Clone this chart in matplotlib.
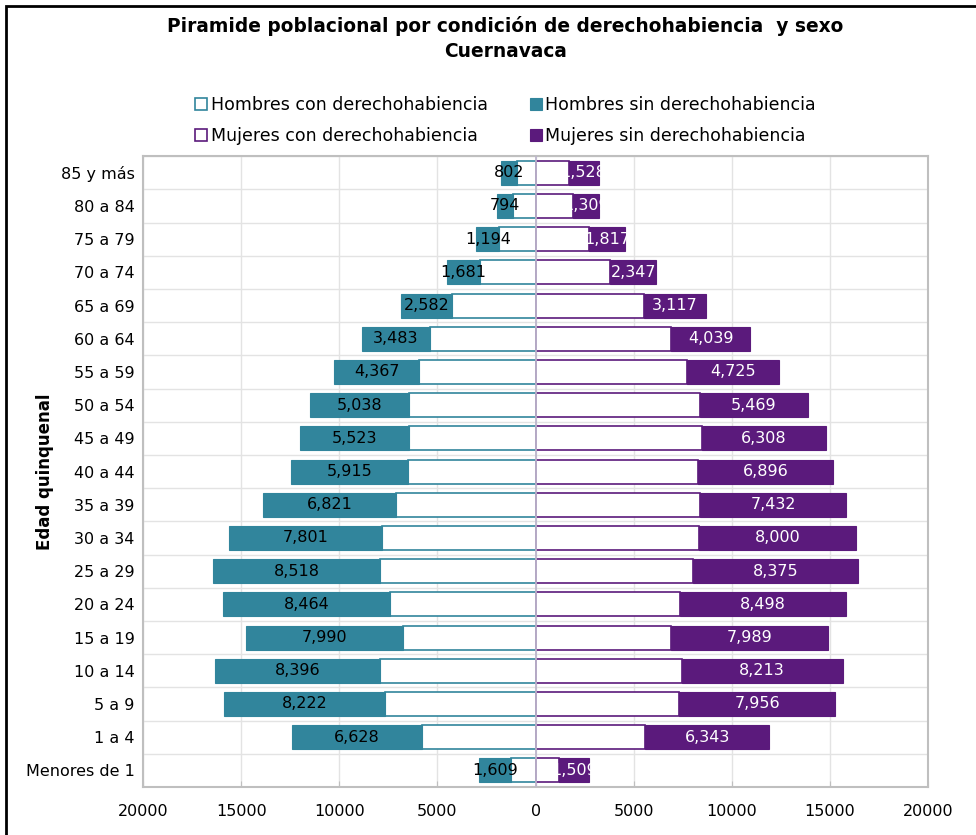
import matplotlib
matplotlib.use("Agg")
import matplotlib.pyplot as plt
from matplotlib.patches import Rectangle

edades = ["Menores de 1", "1 a 4", "5 a 9", "10 a 14", "15 a 19", "20 a 24",
          "25 a 29", "30 a 34", "35 a 39", "40 a 44", "45 a 49", "50 a 54",
          "55 a 59", "60 a 64", "65 a 69", "70 a 74", "75 a 79", "80 a 84",
          "85 y más"]
hombres_con = [1270, 5790, 7660, 7910, 6770, 7440, 7910, 7820, 7090, 6520,
               6460, 6460, 5920, 5380, 4270, 2820, 1840, 1170, 950]
hombres_sin = [1609, 6628, 8222, 8396, 7990, 8464, 8518, 7801, 6821, 5915,
               5523, 5038, 4367, 3483, 2582, 1681, 1194, 794, 802]
mujeres_con = [1200, 5570, 7310, 7440, 6900, 7340, 8040, 8320, 8390, 8260,
               8480, 8390, 7690, 6900, 5540, 3800, 2730, 1900, 1680]
mujeres_sin = [1509, 6343, 7956, 8213, 7989, 8498, 8375, 8000, 7432, 6896,
               6308, 5469, 4725, 4039, 3117, 2347, 1817, 1309, 1528]
ticks_x = [-20000, -15000, -10000, -5000, 0, 5000, 10000, 15000, 20000]

teal = '#31859C'
morado = '#5B1A7C'

plt.rcParams['font.family'] = 'DejaVu Sans'

fig = plt.figure(figsize=(9.76, 8.35), dpi=100)
ax = fig.add_axes([0.1465, 0.0575, 0.8045, 0.7555])

y = list(range(len(edades)))
h = 0.72

# hombres (lado izquierdo, negativos)
ax.barh(y, [-v for v in hombres_con], height=h, color='white', edgecolor=teal,
        linewidth=1.2, label='Hombres con derechohabiencia', zorder=3)
ax.barh(y, [-v for v in hombres_sin], left=[-v for v in hombres_con], height=h,
        color=teal, edgecolor=teal, linewidth=0.8,
        label='Hombres sin derechohabiencia', zorder=3)
# mujeres (lado derecho)
ax.barh(y, mujeres_con, height=h, color='white', edgecolor=morado,
        linewidth=1.2, label='Mujeres con derechohabiencia', zorder=3)
ax.barh(y, mujeres_sin, left=mujeres_con, height=h, color=morado,
        edgecolor=morado, linewidth=0.8,
        label='Mujeres sin derechohabiencia', zorder=3)

# etiquetas
for i in y:
    xh = -(hombres_con[i] + hombres_sin[i] / 2)
    ax.text(xh, i, f'{hombres_sin[i]:,}', ha='center', va='center',
            fontsize=11.5, color='black', zorder=5)
    xm = mujeres_con[i] + mujeres_sin[i] / 2
    ax.text(xm, i, f'{mujeres_sin[i]:,}', ha='center', va='center',
            fontsize=11.5, color='white', zorder=5)

ax.set_xlim(-20000, 20000)
ax.set_ylim(-0.5, len(edades) - 0.5)
ax.set_xticks(ticks_x)
ax.set_xticklabels([str(abs(t)) for t in ticks_x], fontsize=11.5)
ax.set_yticks(y)
ax.set_yticklabels(edades, fontsize=11.5)
ax.set_yticks([k - 0.5 for k in range(len(edades) + 1)], minor=True)
ax.tick_params(axis='y', which='both', length=0, pad=6)
ax.tick_params(axis='x', direction='in', length=4, color='#BFBFBF', pad=12)

ax.grid(axis='x', color='#E3E3E3', linewidth=1, zorder=0)
ax.grid(axis='y', which='minor', color='#E3E3E3', linewidth=1, zorder=0)
ax.axvline(0, color='#BDB6CC', linewidth=1.3, zorder=4)
for s in ax.spines.values():
    s.set_color('#BFBFBF')
    s.set_linewidth(1.5)

ax.set_ylabel('Edad quinquenal', fontsize=12, fontweight='bold')
ax.yaxis.set_label_coords(-0.113, 0.5)

fig.text(0.518, 0.969, 'Piramide poblacional por condición de derechohabiencia  y sexo',
         ha='center', va='center', fontsize=13.4, fontweight='bold')
fig.text(0.518, 0.938, 'Cuernavaca', ha='center', va='center',
         fontsize=13.4, fontweight='bold')

handles, labels = ax.get_legend_handles_labels()
orden = [0, 2, 1, 3]
fig.legend([handles[k] for k in orden], [labels[k] for k in orden],
           loc='center', bbox_to_anchor=(0.518, 0.856), ncol=2, frameon=False,
           fontsize=12.5, handlelength=0.7, handleheight=0.7,
           handletextpad=0.2, columnspacing=2.4, labelspacing=0.75)

# marco exterior del grafico
fig.patches.append(Rectangle((6 / 976, -0.05), 1.2, 1.05 - 6 / 835,
                             transform=fig.transFigure, fill=False,
                             edgecolor='black', linewidth=2))

fig.savefig('out.png', dpi=100)
